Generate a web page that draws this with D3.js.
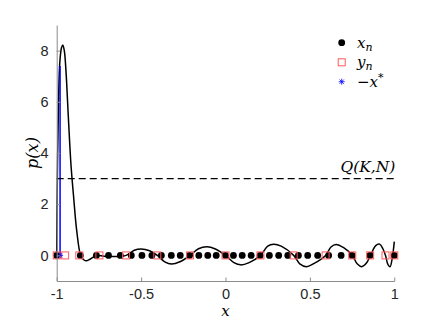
<!DOCTYPE html>
<html>
<head>
<meta charset="utf-8">
<script src="https://cdn.jsdelivr.net/npm/d3@7"></script>
<style>
  html, body { margin: 0; padding: 0; background: #fff; }
  svg { display: block; }
</style>
</head>
<body>
<svg id="chart" width="436" height="327"></svg>
<script>
// ---- data ----
const xTicks = [-1, -0.5, 0, 0.5, 1];
const xTickLabels = ["-1", "-0.5", "0", "0.5", "1"];
const yTicks = [0, 2, 4, 6, 8];
const yTickLabels = ["0", "2", "4", "6", "8"];

// p(x) curve samples (x, p)
const curveX = [-1, -0.997, -0.991, -0.982, -0.972, -0.964, -0.955, -0.945, -0.931, -0.915, -0.9, -0.882, -0.858, -0.84, -0.822, -0.8, -0.763, -0.72, -0.66, -0.589, -0.54, -0.5, -0.45, -0.404, -0.36, -0.32, -0.27, -0.21, -0.16, -0.11, -0.06, 0, 0.05, 0.09, 0.14, 0.207, 0.25, 0.285, 0.33, 0.404, 0.44, 0.48, 0.52, 0.593, 0.625, 0.655, 0.7, 0.751, 0.78, 0.807, 0.835, 0.859, 0.89, 0.913, 0.933, 0.948, 0.962, 0.975, 0.988, 1.0];
const curveP = [0, 2.5, 5.3, 7.5, 8.1, 8.22, 8.0, 7.2, 5.4, 3.5, 2.3, 1.0, 0, -0.17, -0.21, -0.14, 0, -0.03, -0.04, 0, 0.2, 0.25, 0.18, 0, -0.25, -0.34, -0.25, 0, 0.26, 0.34, 0.25, 0, -0.28, -0.37, -0.28, 0, 0.36, 0.44, 0.36, 0, -0.33, -0.44, -0.33, 0, 0.33, 0.43, 0.3, 0, -0.33, -0.44, -0.3, 0, 0.38, 0.44, 0.25, 0, -0.35, -0.44, -0.1, 0.54];

// x_n nodes (black dots)
const xn = [-1, -0.86, -0.765, -0.693, -0.623, -0.558, -0.495, -0.436, -0.38, -0.321, -0.268, -0.213, -0.158, -0.105, -0.055, 0, 0.047, 0.099, 0.152, 0.205, 0.26, 0.315, 0.369, 0.432, 0.487, 0.546, 0.611, 0.685, 0.75, 0.856, 1.0];
// y_n nodes (red squares)
const yn = [-1, -0.95, -0.866, -0.747, -0.589, -0.404, -0.21, 0, 0.207, 0.404, 0.593, 0.751, 0.857, 0.948, 1];
// -x* (blue)
const xStar = [-0.98];
const xStarHeight = [7.4];
// Q(K,N) level
const qLevel = 3;

// ---- chart ----
const svg = d3.select("#chart");
const x = d3.scaleLinear().domain([-1, 1]).range([56.7, 394.3]);
const y = d3.scaleLinear().domain([-1, 9]).range([281, 25]);
const axisColor = "#262626";

// curve
const line = d3.line().x(d => x(d[0])).y(d => y(d[1])).curve(d3.curveCatmullRom.alpha(0.5));
svg.append("path")
  .datum(curveX.map((v, i) => [v, curveP[i]]))
  .attr("d", line)
  .attr("fill", "none")
  .attr("stroke", "#000")
  .attr("stroke-width", 1.5);

// blue stem
svg.selectAll(".stem").data(xStar).enter().append("line")
  .attr("x1", d => x(d)).attr("x2", d => x(d))
  .attr("y1", y(0)).attr("y2", (d, i) => y(xStarHeight[i]))
  .attr("stroke", "#0000ff").attr("stroke-width", 1.5);

// dashed Q line
svg.append("line")
  .attr("x1", x(-1)).attr("x2", x(1))
  .attr("y1", y(qLevel)).attr("y2", y(qLevel))
  .attr("stroke", "#000").attr("stroke-width", 1.3)
  .attr("stroke-dasharray", "7,4");

svg.append("text")
  .attr("x", x(1) + 1).attr("y", y(qLevel) - 7)
  .attr("text-anchor", "end")
  .attr("font-family", "'DejaVu Serif', serif")
  .attr("font-style", "italic")
  .attr("font-size", 15.5)
  .attr("fill", "#000")
  .text("Q(K,N)");

// dots
svg.selectAll(".dot").data(xn).enter().append("circle")
  .attr("cx", d => x(d)).attr("cy", y(0)).attr("r", 3.4)
  .attr("fill", "#000");

// squares
const sq = 7;
svg.selectAll(".sq").data(yn).enter().append("rect")
  .attr("x", d => x(d) - sq / 2).attr("y", y(0) - sq / 2)
  .attr("width", sq).attr("height", sq)
  .attr("fill", "none").attr("stroke", "#ff5a5a").attr("stroke-width", 1);

// asterisk
function asterisk(g, cx, cy, r, color) {
  for (let k = 0; k < 4; k++) {
    const a = k * Math.PI / 4;
    g.append("line")
      .attr("x1", cx - r * Math.cos(a)).attr("y1", cy - r * Math.sin(a))
      .attr("x2", cx + r * Math.cos(a)).attr("y2", cy + r * Math.sin(a))
      .attr("stroke", color).attr("stroke-width", 0.8);
  }
}
xStar.forEach(d => asterisk(svg, x(d), y(0), 3, "#0000ff"));

// axes
const gx = svg.append("g").attr("transform", `translate(0,${y(-1)})`)
  .call(d3.axisBottom(x).tickValues(xTicks).tickFormat((d, i) => xTickLabels[i]).tickSizeInner(-3.5).tickSizeOuter(0).tickPadding(8));
const gy = svg.append("g").attr("transform", `translate(${x(-1)},0)`)
  .call(d3.axisLeft(y).tickValues(yTicks).tickFormat((d, i) => yTickLabels[i]).tickSizeInner(-3.5).tickSizeOuter(0).tickPadding(8));
[gx, gy].forEach(g => {
  g.select(".domain").attr("stroke", "#8c8c8c").attr("stroke-width", 1);
  g.selectAll(".tick line").attr("stroke", "#8c8c8c").attr("stroke-width", 1);
  g.selectAll(".tick text")
    .attr("font-family", "'Liberation Sans', Arial, sans-serif")
    .attr("font-size", 14.5)
    .attr("fill", axisColor);
});

// axis labels
svg.append("text")
  .attr("x", x(0)).attr("y", 316)
  .attr("text-anchor", "middle")
  .attr("font-family", "'DejaVu Serif', serif")
  .attr("font-style", "italic")
  .attr("font-size", 15)
  .attr("fill", "#000")
  .text("x");

svg.append("text")
  .attr("transform", `translate(38,${y(4)}) rotate(-90)`)
  .attr("text-anchor", "middle")
  .attr("font-family", "'DejaVu Serif', serif")
  .attr("font-style", "italic")
  .attr("font-size", 16)
  .attr("fill", "#000")
  .text("p(x)");

// legend
const lx = 341.7, ly = [42.7, 62.3, 81.7], tx = 357;
const leg = svg.append("g");
leg.append("circle").attr("cx", lx).attr("cy", ly[0]).attr("r", 3.4).attr("fill", "#000");
leg.append("rect").attr("x", lx - sq / 2).attr("y", ly[1] - sq / 2).attr("width", sq).attr("height", sq)
  .attr("fill", "none").attr("stroke", "#ff5a5a").attr("stroke-width", 1);
asterisk(leg, lx, ly[2], 3, "#0000ff");

function legText(yy, parts) {
  const t = leg.append("text").attr("x", tx).attr("y", yy + 5)
    .attr("font-family", "'DejaVu Serif', serif").attr("font-size", 15).attr("fill", "#000");
  parts.forEach(p => {
    const s = t.append("tspan").text(p.t);
    if (p.i) s.attr("font-style", "italic");
    if (p.sub) s.attr("font-size", 11).attr("dy", 3);
    if (p.sup) s.attr("font-size", 11).attr("dy", -6);
  });
}
legText(ly[0], [{t: "x", i: true}, {t: "n", i: true, sub: true}]);
legText(ly[1], [{t: "y", i: true}, {t: "n", i: true, sub: true}]);
legText(ly[2], [{t: "−"}, {t: "x", i: true}, {t: "*", sup: true}]);
</script>
</body>
</html>
